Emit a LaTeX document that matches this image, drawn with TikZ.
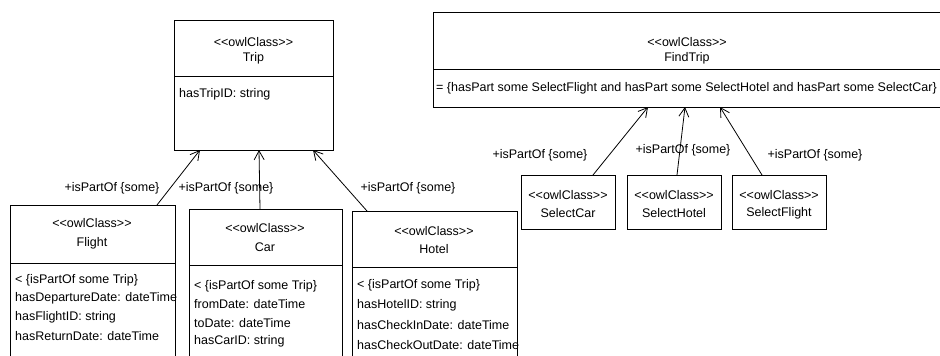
\documentclass[tikz,border=0pt]{standalone}
\usepackage{fontspec}
\setmainfont{Liberation Sans}
\usetikzlibrary{arrows.meta}
\newcommand\stereo{<{}<owlClass>{}>}
\begin{document}
\begin{tikzpicture}[x=1pt,y=-1pt,
  box/.style={draw,line width=0.9pt,anchor=north west,inner sep=0pt,outer sep=0pt},
  txt/.style={inner sep=0pt,font=\fontsize{12.5}{14}\selectfont},
  attr/.style={txt,anchor=west},
  link/.style={draw,line width=0.8pt,-{Straight Barb[length=9pt,width=10pt,line width=0.8pt]}}]
\useasboundingbox (0,0) rectangle (940,356);
\clip (0,0) rectangle (940,356);
\fill[white] (0,0) rectangle (940,356);
% boxes
\node[box,minimum width=159pt,minimum height=130pt] (trip) at (174,20) {};
\node[box,minimum width=512pt,minimum height=95pt] (findtrip) at (433,12) {};
\node[box,minimum width=165pt,minimum height=170pt] (flight) at (10,205) {};
\node[box,minimum width=153pt,minimum height=170pt] (car) at (189,209) {};
\node[box,minimum width=165pt,minimum height=170pt] (hotel) at (352,211) {};
\node[box,minimum width=94pt,minimum height=54pt] (selcar) at (521,175) {};
\node[box,minimum width=94pt,minimum height=54pt] (selhotel) at (627,175) {};
\node[box,minimum width=94pt,minimum height=54pt] (selflight) at (732,175) {};
% dividers
\draw[line width=0.9pt] (trip.west |- 0,76) -- (trip.east |- 0,76);
\draw[line width=0.9pt] (findtrip.west |- 0,69) -- (findtrip.east |- 0,69);
\draw[line width=0.9pt] (flight.west |- 0,263) -- (flight.east |- 0,263);
\draw[line width=0.9pt] (car.west |- 0,265) -- (car.east |- 0,265);
\draw[line width=0.9pt] (hotel.west |- 0,267) -- (hotel.east |- 0,267);
% Trip
\node[txt] (tripst) at (253.5,42) {\stereo};
\node[txt] (tripnm) at (253.5,58) {Trip};
\node[attr] (tripa1) at (179,94) {hasTripID: string};
% FindTrip
\node[txt] (ftst) at (687,42) {\stereo};
\node[txt] (ftnm) at (687,58) {FindTrip};
\node[attr] (fta1) at (436,88) {= \{hasPart some SelectFlight and hasPart some SelectHotel and hasPart some SelectCar\}};
% Flight
\node[txt] (flst) at (92,223) {\stereo};
\node[txt] (flnm) at (92,243) {Flight};
\node[attr] (fla1) at (15,280) {< \{isPartOf some Trip\}};
\node[attr] (fla2) at (15,298) {hasDepartureDate: dateTime};
\node[attr] (fla3) at (15,317) {hasFlightID: string};
\node[attr] (fla4) at (15,336) {hasReturnDate: dateTime};
% Car
\node[txt] (cast) at (265,228) {\stereo};
\node[txt] (canm) at (265,247) {Car};
\node[attr] (caa1) at (194,286) {< \{isPartOf some Trip\}};
\node[attr] (caa2) at (194,304) {fromDate: dateTime};
\node[attr] (caa3) at (194,323) {toDate: dateTime};
\node[attr] (caa4) at (194,341) {hasCarID: string};
% Hotel
\node[txt] (host) at (434,231) {\stereo};
\node[txt] (honm) at (434,249) {Hotel};
\node[attr] (hoa1) at (357,285) {< \{isPartOf some Trip\}};
\node[attr] (hoa2) at (357,305) {hasHotelID: string};
\node[attr] (hoa3) at (357,325) {hasCheckInDate: dateTime};
\node[attr] (hoa4) at (357,345) {hasCheckOutDate: dateTime};
% Select boxes
\node[txt] (scst) at (568,195) {\stereo};
\node[txt] (scnm) at (568,213) {SelectCar};
\node[txt] (shst) at (674,195) {\stereo};
\node[txt] (shnm) at (674,213) {SelectHotel};
\node[txt] (sfst) at (779,195) {\stereo};
\node[txt] (sfnm) at (779,213) {SelectFlight};
% connectors
\draw[link] ([xshift=-18pt]flight.north east) -- ([xshift=26pt]trip.south west);
\draw[link] ([xshift=71pt]car.north west) -- ([xshift=85pt]trip.south west);
\draw[link] ([xshift=15pt]hotel.north west) -- ([xshift=-20pt]trip.south east);
\draw[link] ([xshift=72pt]selcar.north west) -- ([xshift=215pt]findtrip.south west);
\draw[link] ([xshift=50pt]selhotel.north west) -- ([xshift=252pt]findtrip.south west);
\draw[link] ([xshift=30pt]selflight.north west) -- ([xshift=287pt]findtrip.south west);
% labels
\node[txt] (l1) at (112,188) {+isPartOf \{some\}};
\node[txt] (l2) at (226,188) {+isPartOf \{some\}};
\node[txt] (l3) at (408,188) {+isPartOf \{some\}};
\node[txt] (l4) at (540,155) {+isPartOf \{some\}};
\node[txt] (l5) at (683,150) {+isPartOf \{some\}};
\node[txt] (l6) at (815,155) {+isPartOf \{some\}};
\end{tikzpicture}
\end{document}
